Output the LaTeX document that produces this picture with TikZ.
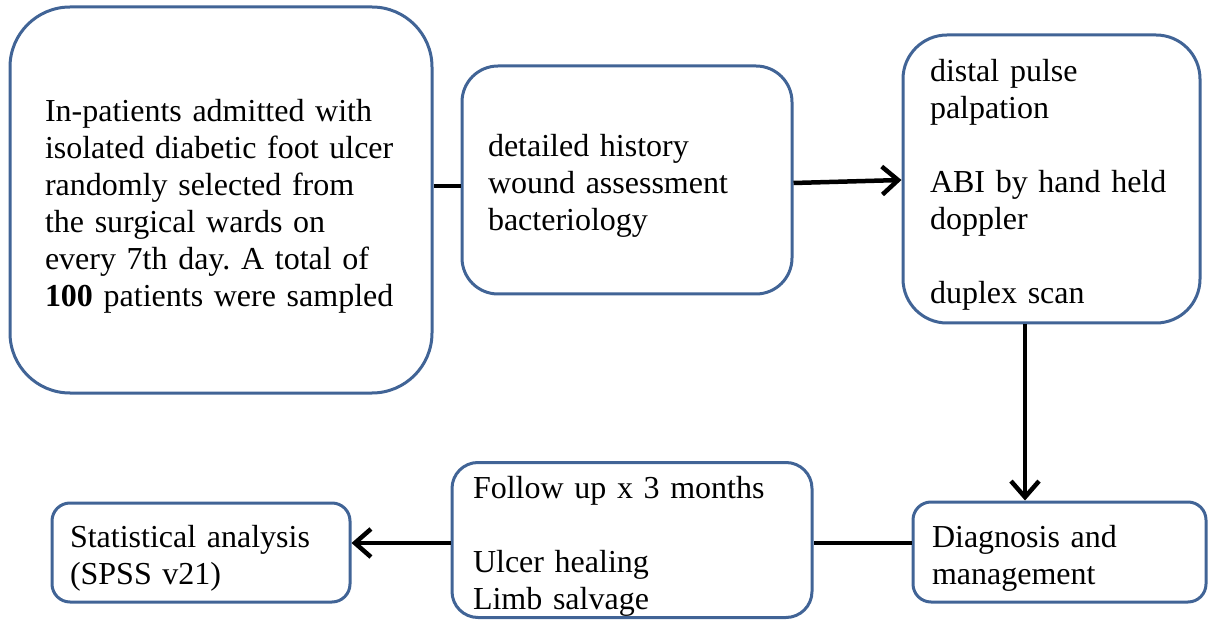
\documentclass[tikz,border=0pt]{standalone}
\usepackage{fontspec}
\setmainfont{Liberation Serif}
\usetikzlibrary{arrows.meta}
\definecolor{boxblue}{RGB}{65,100,150}
\frenchspacing
\begin{document}
\begin{tikzpicture}[x=1pt,y=-1pt,
	every node/.style={draw=boxblue,line width=3pt,align=left,
	font=\fontsize{32}{37}\selectfont,inner sep=0pt,
	execute at begin node={\rule{0pt}{34pt}}},
	line/.style={line width=4.5pt},
	arr/.style={line width=4.5pt,-{Straight Barb[length=16pt,width=28pt]}}]
\useasboundingbox (0,0) rectangle (1208,620);
\node[rounded corners=60pt,minimum width=422pt,minimum height=386pt,
	text width=352pt] (patients) at (221,200)
	{In-patients admitted with\\isolated diabetic foot ulcer\\randomly selected from\\the surgical wards on\\every 7th day. A total of\\\textbf{100} patients were sampled};
\node[rounded corners=36pt,minimum width=330pt,minimum height=228pt,
	text width=278pt] (history) at (627,180)
	{detailed history\\wound assessment\\bacteriology};
\node[rounded corners=44pt,minimum width=297pt,minimum height=288pt,
	text width=243pt] (vascular) at (1051.5,179)
	{distal pulse\\palpation\\[37pt]ABI by hand held\\doppler\\[37pt]duplex scan};
\node[rounded corners=18pt,minimum width=293pt,minimum height=100pt,
	text width=255pt] (diagnosis) at (1059.5,552)
	{Diagnosis and\\management};
\node[rounded corners=26pt,minimum width=360pt,minimum height=155pt,
	text width=318pt] (followup) at (632,540)
	{Follow up x 3 months\\[37pt]Ulcer healing\\Limb salvage};
\node[rounded corners=18pt,minimum width=298pt,minimum height=99pt,
	text width=262pt] (stats) at (201,552.5)
	{Statistical analysis\\(SPSS v21)};
% connectors
\draw[line] (patients.east |- 0,186) -- (history.west |- 0,186);
\draw[arr] (history.east |- 0,183) -- (vascular.west |- 0,180);
\draw[arr] (vascular.south -| 1025,0) -- (diagnosis.north -| 1025,0);
\draw[line] (diagnosis.west |- 0,543) -- (followup.east |- 0,543);
\draw[arr] (followup.west |- 0,543) -- (stats.east |- 0,543);
\end{tikzpicture}
\end{document}
